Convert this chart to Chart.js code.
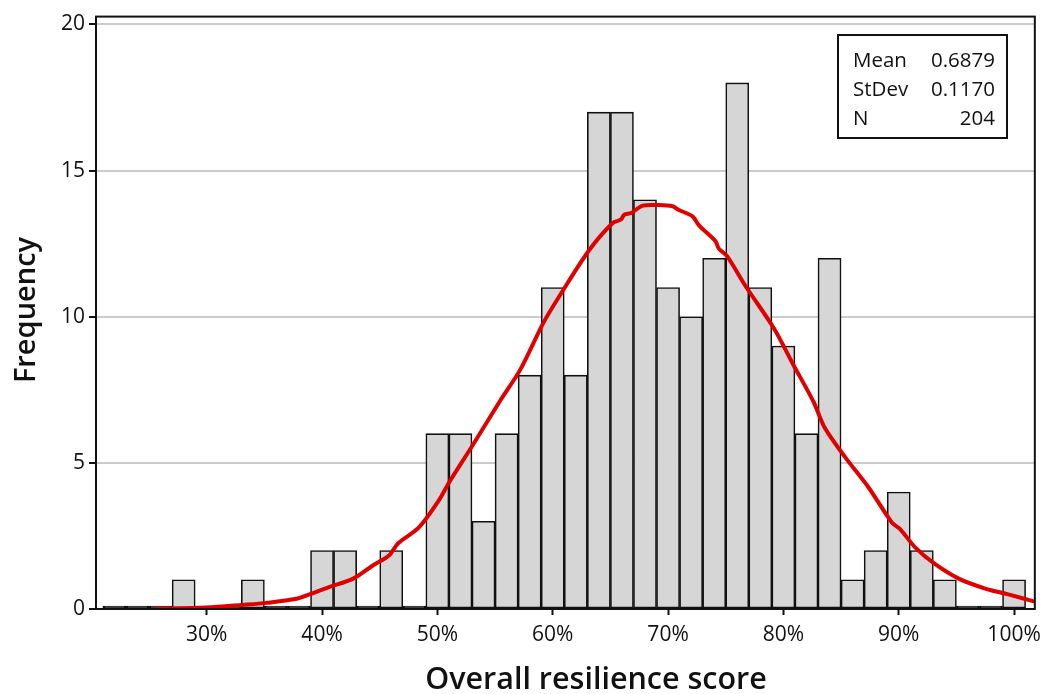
<!DOCTYPE html>
<html>
<head>
<meta charset="utf-8">
<script src="https://cdn.jsdelivr.net/npm/chart.js@4"></script>
<style>
  html, body { margin: 0; padding: 0; background: #fff; }
</style>
</head>
<body>
<canvas id="chart" width="1048" height="694"></canvas>
<script>
// histogram bins (centre of each 2% bin) and counts
const binCenters = [22, 24, 26, 28, 30, 32, 34, 36, 38, 40, 42, 44, 46, 48, 50, 52, 54, 56, 58, 60,
                    62, 64, 66, 68, 70, 72, 74, 76, 78, 80, 82, 84, 86, 88, 90, 92, 94, 96, 98, 100];
const counts = [0, 0, 0, 1, 0, 0, 1, 0, 0, 2, 2, 0, 2, 0, 6, 6, 3, 6, 8, 11,
                8, 17, 17, 14, 11, 10, 12, 18, 11, 9, 6, 12, 1, 2, 4, 2, 1, 0, 0, 1];

// fitted curve
const curveX = [25.5, 30.0, 33.1, 35.2, 37.8, 38.9, 40.6, 42.7, 44.4, 45.8, 46.6, 48.4, 50.1, 51.0,
                53.1, 55.4, 57.2, 59.2, 60.6, 63.2, 65.2, 65.9, 66.2, 66.8, 67.8, 69.2, 70.4, 70.9,
                72.1, 72.7, 74.1, 74.4, 75.1, 76.7, 79.2, 80.8, 82.6, 83.6, 85.4, 87.4, 89.4, 90.1,
                91.4, 93.1, 95.2, 97.5, 99.5, 101.8];
const curveY = [0.0, 0.05, 0.14, 0.21, 0.35, 0.5, 0.75, 1.04, 1.49, 1.83, 2.25, 2.79, 3.70, 4.32,
                5.63, 7.10, 8.2, 9.8, 10.72, 12.30, 13.21, 13.32, 13.49, 13.55, 13.80, 13.82, 13.78, 13.66,
                13.44, 13.12, 12.59, 12.33, 12.08, 11.06, 9.59, 8.4, 7.10, 6.19, 5.17, 4.15, 2.96, 2.74,
                2.12, 1.55, 1.04, 0.70, 0.50, 0.25];

const xTickValues = [30, 40, 50, 60, 70, 80, 90, 100];
const yTickValues = [0, 5, 10, 15, 20];

const statLabels = ["Mean", "StDev", "N"];
const statValues = ["0.6879", "0.1170", "204"];

const xTitle = "Overall resilience score";
const yTitle = "Frequency";

const FONT = "'Open Sans', 'Noto Sans', sans-serif";

const extras = {
  id: "extras",
  afterDraw(chart) {
    const { ctx, chartArea: a } = chart;
    ctx.save();
    // plot frame
    ctx.strokeStyle = "#111";
    ctx.lineWidth = 2;
    ctx.strokeRect(a.left, a.top, a.right - a.left, a.bottom - a.top);

    // stats box
    ctx.fillStyle = "#fff";
    ctx.fillRect(838, 35, 169, 103);
    ctx.strokeRect(838, 35, 169, 103);
    ctx.fillStyle = "#111";
    ctx.font = "20.5px " + FONT;
    ctx.textBaseline = "middle";
    const rows = [61, 90, 119];
    statLabels.forEach((lab, i) => {
      ctx.textAlign = "left";
      ctx.fillText(lab, 853, rows[i]);
      ctx.textAlign = "right";
      ctx.fillText(statValues[i], 995, rows[i]);
    });

    // axis titles
    ctx.font = "600 30.5px " + FONT;
    ctx.textAlign = "center";
    ctx.fillText(xTitle, 596, 680);
    ctx.translate(27, 310);
    ctx.rotate(-Math.PI / 2);
    ctx.font = "600 29px " + FONT;
    ctx.fillText(yTitle, 0, 0);
    ctx.restore();
  },
};

new Chart(document.getElementById("chart"), {
  data: {
    datasets: [
      {
        type: "line",
        data: curveX.map((x, i) => ({ x, y: curveY[i] })),
        borderColor: "#e00000",
        borderWidth: 4,
        pointRadius: 0,
        tension: 0.3,
        fill: false,
        order: 0,
      },
      {
        type: "bar",
        data: binCenters.map((x, i) => ({ x, y: counts[i] })),
        backgroundColor: (c) => (c.raw && c.raw.y === 0 ? "#111" : "#d6d6d6"),
        borderColor: "#111",
        borderWidth: 1.6,
        borderSkipped: false,
        barPercentage: 1,
        categoryPercentage: 1,
        minBarLength: 3,
        order: 1,
      },
    ],
  },
  options: {
    responsive: false,
    animation: false,
    devicePixelRatio: 1,
    layout: { padding: { top: 12, right: 11, left: 0, bottom: 0 } },
    plugins: { legend: { display: false }, tooltip: { enabled: false } },
    scales: {
      x: {
        type: "linear",
        offset: false,
        min: 20.4,
        max: 101.8,
        afterBuildTicks: (s) => { s.ticks = xTickValues.map((v) => ({ value: v })); },
        afterFit: (s) => { s.height = 85; },
        grid: { offset: false, drawOnChartArea: false, drawTicks: true, tickLength: 6, tickColor: "#111", tickWidth: 2 },
        border: { color: "#111", width: 1 },
        ticks: {
          color: "#111",
          font: { family: FONT, size: 21 },
          padding: 7,
          maxRotation: 0,
          callback: (v) => v + "%",
        },
      },
      y: {
        min: 0,
        max: 20.27,
        afterBuildTicks: (s) => { s.ticks = yTickValues.map((v) => ({ value: v })); },
        afterFit: (s) => { s.width = 96; },
        grid: { color: "#cccccc", lineWidth: 2, tickLength: 7, tickColor: "#111", tickWidth: 2 },
        border: { color: "#111", width: 2 },
        ticks: { color: "#111", font: { family: FONT, size: 21 }, padding: 4 },
      },
    },
  },
  plugins: [extras],
});
</script>
</body>
</html>
